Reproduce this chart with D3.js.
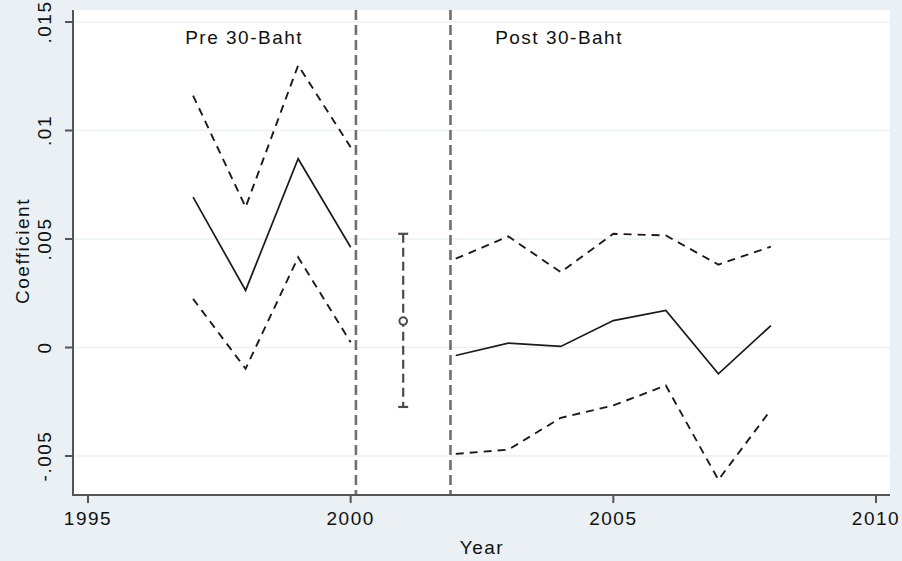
<!DOCTYPE html>
<html>
<head>
<meta charset="utf-8">
<script src="https://cdn.jsdelivr.net/npm/d3@7"></script>
<style>
  html, body { margin: 0; padding: 0; background: #eaf0f3; }
  svg { display: block; }
  text { font-family: "Liberation Sans", Arial, sans-serif; font-size: 19px; letter-spacing: 1.5px; fill: #111; }
</style>
</head>
<body>
<svg id="chart" width="902" height="561"></svg>
<script>
// ---- data ----
const preYears = [1997, 1998, 1999, 2000];
const preCoef  = [0.00693, 0.00263, 0.00870, 0.00462];
const preUpper = [0.01161, 0.00647, 0.01300, 0.00923];
const preLower = [0.00224, -0.00098, 0.00416, 0.00024];

const midYear  = [2001];
const midCoef  = [0.00122];
const midUpper = [0.00524];
const midLower = [-0.00274];

const postYears = [2002, 2003, 2004, 2005, 2006, 2007, 2008];
const postCoef  = [-0.00037, 0.00020, 0.00005, 0.00124, 0.00171, -0.00121, 0.00101];
const postUpper = [0.00409, 0.00512, 0.00347, 0.00524, 0.00516, 0.00382, 0.00465];
const postLower = [-0.00490, -0.00471, -0.00324, -0.00267, -0.00175, -0.00610, -0.00287];

const xTicks = [1995, 2000, 2005, 2010];
const yTicks = [-0.005, 0, 0.005, 0.01, 0.015];
const yTickLabels = ["-.005", "0", ".005", ".01", ".015"];
const vLines = [2000.1, 2001.9];
const periodLabels = [{text: "Pre 30-Baht", year: 1996.85}, {text: "Post 30-Baht", year: 2002.75}];

// ---- layout ----
const svg = d3.select("#chart");
const plot = {left: 73, right: 890, top: 10, bottom: 495};
const x = d3.scaleLinear().domain([1995, 2010]).range([88, 876]);
const y = d3.scaleLinear().domain([-0.005, 0.015]).range([456, 22]);

svg.append("rect").attr("x", 0).attr("y", 0).attr("width", 902).attr("height", 561).attr("fill", "#eaf0f3");
svg.append("rect").attr("x", plot.left).attr("y", plot.top)
  .attr("width", plot.right - plot.left).attr("height", plot.bottom - plot.top).attr("fill", "#ffffff");

// gridlines
svg.append("g").selectAll("line").data(yTicks).join("line")
  .attr("x1", plot.left).attr("x2", plot.right)
  .attr("y1", d => y(d)).attr("y2", d => y(d))
  .attr("stroke", "#eaf2f3").attr("stroke-width", 1.6);

// vertical dashed lines
svg.append("g").selectAll("line").data(vLines).join("line")
  .attr("x1", d => x(d)).attr("x2", d => x(d))
  .attr("y1", plot.top).attr("y2", plot.bottom)
  .attr("stroke", "#707070").attr("stroke-width", 2.6)
  .attr("stroke-dasharray", "10,5");

// series lines
const line = d3.line().x(d => x(d[0])).y(d => y(d[1]));
function drawSeries(years, vals, dashed) {
  svg.append("path")
    .datum(years.map((yr, i) => [yr, vals[i]]))
    .attr("d", line)
    .attr("fill", "none")
    .attr("stroke", "#1a1a1a")
    .attr("stroke-width", dashed ? 1.9 : 1.7)
    .attr("stroke-dasharray", dashed ? "8,6" : null)
    .attr("stroke-linejoin", "miter");
}
drawSeries(preYears, preCoef, false);
drawSeries(preYears, preUpper, true);
drawSeries(preYears, preLower, true);
drawSeries(postYears, postCoef, false);
drawSeries(postYears, postUpper, true);
drawSeries(postYears, postLower, true);

// middle error bar
const eb = svg.append("g");
midYear.forEach((yr, i) => {
  eb.append("line").attr("x1", x(yr)).attr("x2", x(yr))
    .attr("y1", y(midUpper[i])).attr("y2", y(midLower[i]))
    .attr("stroke", "#4a4a4a").attr("stroke-width", 2.2).attr("stroke-dasharray", "9,5");
  [midUpper[i], midLower[i]].forEach(v => {
    eb.append("line").attr("x1", x(yr) - 5).attr("x2", x(yr) + 5)
      .attr("y1", y(v)).attr("y2", y(v))
      .attr("stroke", "#4a4a4a").attr("stroke-width", 2.2);
  });
  eb.append("circle").attr("cx", x(yr)).attr("cy", y(midCoef[i])).attr("r", 3.8)
    .attr("fill", "#ffffff").attr("stroke", "#4a4a4a").attr("stroke-width", 2);
});

// axes
const axisColor = "#555555";
svg.append("line").attr("x1", plot.left).attr("x2", plot.left).attr("y1", plot.top).attr("y2", plot.bottom + 1)
  .attr("stroke", axisColor).attr("stroke-width", 2);
svg.append("line").attr("x1", plot.left - 1).attr("x2", plot.right).attr("y1", plot.bottom).attr("y2", plot.bottom)
  .attr("stroke", axisColor).attr("stroke-width", 2);

// y ticks
svg.append("g").selectAll("line").data(yTicks).join("line")
  .attr("x1", plot.left - 8).attr("x2", plot.left)
  .attr("y1", d => y(d)).attr("y2", d => y(d))
  .attr("stroke", axisColor).attr("stroke-width", 2);
svg.append("g").selectAll("text").data(yTicks).join("text")
  .attr("transform", d => `translate(51,${y(d)}) rotate(-90)`)
  .attr("text-anchor", "middle")
  .text((d, i) => yTickLabels[i]);

// x ticks
svg.append("g").selectAll("line").data(xTicks).join("line")
  .attr("x1", d => x(d)).attr("x2", d => x(d))
  .attr("y1", plot.bottom).attr("y2", plot.bottom + 8)
  .attr("stroke", axisColor).attr("stroke-width", 2);
svg.append("g").selectAll("text").data(xTicks).join("text")
  .attr("x", d => x(d)).attr("y", 525)
  .attr("text-anchor", "middle")
  .text(d => d);

// axis titles
svg.append("text").attr("x", 482).attr("y", 554).attr("text-anchor", "middle").text("Year");
svg.append("text").attr("transform", "translate(29,251) rotate(-90)").attr("text-anchor", "middle").text("Coefficient");

// period labels
svg.append("g").selectAll("text").data(periodLabels).join("text")
  .attr("x", d => x(d.year)).attr("y", 44)
  .text(d => d.text);
</script>
</body>
</html>
